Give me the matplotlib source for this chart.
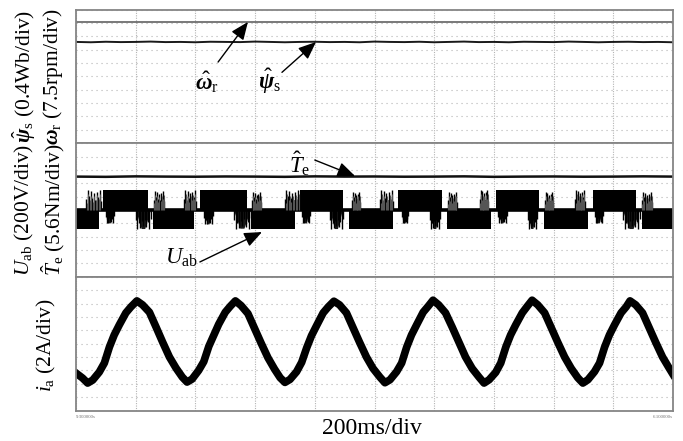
import numpy as np
import matplotlib
matplotlib.use("Agg")
import matplotlib.pyplot as plt

plt.rcParams['font.family'] = ['Liberation Serif', 'DejaVu Serif']
plt.rcParams['mathtext.fontset'] = 'custom'
plt.rcParams['mathtext.rm'] = 'Liberation Serif'
plt.rcParams['mathtext.it'] = 'Liberation Serif:italic'
plt.rcParams['mathtext.bf'] = 'Liberation Serif:bold:italic'

# ---------------- data (time in ms, 200 ms/div) ----------------
t_span = 2000
# scales per division
psi_scale = 0.4      # Wb/div
omega_scale = 7.5    # rpm/div
u_scale = 200.0      # V/div
te_scale = 5.6       # Nm/div
ia_scale = 2.0       # A/div

omega_r = [30.5, 30.5]          # rpm
psi_s = [1.03, 1.02, 1.035, 1.025, 1.03, 1.04, 1.025, 1.03, 1.02, 1.035,
         1.03, 1.025, 1.04, 1.03, 1.02, 1.03, 1.035, 1.025, 1.03, 1.02,
         1.04, 1.03, 1.025, 1.035, 1.02, 1.03, 1.04, 1.025, 1.03, 1.02,
         1.035, 1.03, 1.025, 1.04, 1.03, 1.02, 1.03, 1.035, 1.025, 1.03, 1.02]
t_e = [14.0, 13.9, 14.1, 14.0, 13.95, 14.05, 14.0, 13.9, 14.1, 14.0, 14.05,
       13.95, 14.0, 14.1, 13.9, 14.0, 14.05, 13.95, 14.0, 14.1, 14.0]

# U_ab PWM blocks
high_start = [90, 415, 750, 1079, 1407, 1732]
high_end = [241, 573, 894, 1226, 1551, 1876]
low_start = [0, 258, 586, 914, 1243, 1568, 1896]
low_end = [77, 395, 734, 1062, 1390, 1716, 2000]
u_high = 300.0
u_low = -285.0
# spike clusters: start, end, peak voltage
up_spike_start = [34, 261, 362, 590, 700, 925, 1018, 1246, 1353, 1571, 1672, 1896]
up_spike_end = [84, 295, 402, 620, 748, 952, 1062, 1276, 1380, 1598, 1705, 1930]
up_spike_peak = [300, 285, 300, 270, 300, 270, 300, 270, 300, 270, 300, 270]
dn_spike_start = [100, 201, 429, 529, 757, 851, 1092, 1186, 1414, 1514, 1739, 1832]
dn_spike_end = [127, 251, 459, 586, 784, 894, 1112, 1220, 1444, 1544, 1765, 1890]
dn_spike_peak = [-200, -285, -215, -280, -200, -285, -200, -285, -200, -285, -200, -285]

# phase current samples
ia_t = [0, 22, 39, 56, 78, 95, 112, 128, 145, 167, 184, 204, 223, 246, 268, 290, 313, 335, 356,
        372, 389, 411, 428, 445, 461, 478, 500, 517, 534, 553, 576, 598, 620, 643, 665, 684,
        700, 717, 739, 756, 773, 789, 806, 828, 845, 864, 883, 906, 928, 950, 973, 995, 1018,
        1035, 1052, 1074, 1091, 1108, 1124, 1141, 1163, 1180, 1196, 1215, 1238, 1260, 1282, 1305, 1327, 1350,
        1367, 1384, 1406, 1423, 1440, 1456, 1473, 1495, 1512, 1528, 1547, 1570, 1592, 1614, 1637, 1659, 1681,
        1698, 1715, 1737, 1754, 1771, 1787, 1804, 1826, 1843, 1856, 1875, 1898, 1920, 1942, 1965, 1985, 2000]
ia_v = [-4.4, -5.15, -5.9, -5.45, -4.25, -2.9, -0.5, 1.3, 2.8, 4.6, 5.5, 6.4, 5.8, 4.7, 2.5, 0.25, -2.0, -3.65, -5.0,
        -5.75, -5.3, -4.0, -2.7, -0.4, 1.2, 2.9, 4.7, 5.6, 6.4, 5.7, 4.5, 2.3, 0.1, -2.1, -3.8, -5.1,
        -5.8, -5.35, -4.2, -2.8, -0.6, 1.2, 2.7, 4.6, 5.5, 6.35, 5.8, 4.6, 2.4, 0.2, -2.0, -3.7, -5.0,
        -5.85, -5.4, -4.2, -2.9, -0.5, 1.3, 2.8, 4.7, 5.6, 6.5, 5.8, 4.6, 2.5, 0.3, -2.0, -3.7, -5.0,
        -5.9, -5.4, -4.3, -2.9, -0.5, 1.3, 2.8, 4.6, 5.6, 6.5, 5.8, 4.6, 2.4, 0.2, -2.0, -3.7, -5.1,
        -5.9, -5.4, -4.2, -2.9, -0.5, 1.3, 2.8, 4.6, 5.5, 6.4, 5.8, 4.6, 2.4, 0.2, -2.0, -3.5, -4.6]

# ---------------- figure ----------------
W, H = 683, 441
fig = plt.figure(figsize=(W / 100, H / 100), dpi=100)
left = 76 / W
width = 597 / W
panels_px = [(9.5, 143.2), (143.2, 276.8), (276.8, 410.5)]
axes = []
for top_px, bot_px in panels_px:
    ax = fig.add_axes([left, 1 - bot_px / H, width, (bot_px - top_px) / H])
    axes.append(ax)

frame_col = '#858585'
grid_col = '#b4b4b4'
for ax in axes:
    ax.set_xlim(0, t_span)
    ax.set_ylim(-5, 5)
    ax.set_xticks(np.arange(0, t_span + 1, 200))
    ax.set_yticks(np.arange(-5, 6, 1))
    ax.set_yticks([0], minor=True)
    ax.tick_params(which='major', length=0, labelleft=False, labelbottom=False)
    ax.tick_params(axis='y', which='minor', length=4, width=1, color=frame_col, direction='out')
    ax.tick_params(axis='x', which='minor', length=0)
    ax.xaxis.grid(True, which='major', color=grid_col, lw=0.8, linestyle=(0, (1, 1.2)))
    ax.yaxis.grid(True, which='major', color=grid_col, lw=0.8, linestyle=(0, (1, 3.5)))
    ax.set_axisbelow(True)
    for sp in ax.spines.values():
        sp.set_color(frame_col)
        sp.set_linewidth(1.3)

# ---- top panel ----
ax0 = axes[0]
ax0.plot([0, t_span], np.array(omega_r) / omega_scale, color='#555555', lw=1.1)
t_psi = np.linspace(0, t_span, len(psi_s))
ax0.plot(t_psi, np.array(psi_s) / psi_scale, color='#1a1a1a', lw=1.4)

# ---- middle panel ----
ax1 = axes[1]
t_te = np.linspace(0, t_span, len(t_e))
ax1.plot(t_te, np.array(t_e) / te_scale, color='#111111', lw=1.8)
hs = np.array(high_start); he = np.array(high_end)
ls = np.array(low_start); le = np.array(low_end)
ax1.bar(hs, u_high / u_scale, width=he - hs, align='edge', bottom=0, color='black', lw=0)
ax1.bar(ls, u_low / u_scale, width=le - ls, align='edge', bottom=0, color='black', lw=0)
ax1.axhline(0, color='black', lw=2.6)
comb = np.array([0.55, 1.0, 0.7, 0.95, 0.6, 0.85, 0.5, 0.9, 0.65, 1.0, 0.45])
for s, e, p in zip(up_spike_start, up_spike_end, up_spike_peak):
    xs = np.linspace(s, e, len(comb))
    ax1.vlines(xs, 0, comb * p / u_scale, color='black', lw=1.0)
    ax1.vlines(xs[:-1] + (e - s) / 20, 0, comb[::-1][:-1] * p / u_scale * 0.8, color='#555555', lw=0.8)
for s, e, p in zip(dn_spike_start, dn_spike_end, dn_spike_peak):
    m = (s + e) / 2
    ax1.fill([s, m - (e - s) * 0.12, m + (e - s) * 0.12, e],
             [0, p / u_scale, p / u_scale, 0], color='#1a1a1a', lw=0)
    xs = np.linspace(s, e, len(comb))
    ax1.vlines(xs, 0, comb * p / u_scale, color='black', lw=1.0)

# ---- bottom panel ----
ax2 = axes[2]
ax2.plot(ia_t, np.array(ia_v) / ia_scale, color='black', lw=5.5, solid_joinstyle='round')

# ---------------- labels ----------------
fs = 15.5
def ylab(xpx, ypx, s):
    fig.text(xpx / W, 1 - ypx / H, s, rotation=90, ha='center', va='center', fontsize=fs)

ylab(24, 76, r'$\hat{\mathbf{\psi}}_\mathrm{s}$ (0.4Wb/div)')
ylab(53, 77, r'$\mathbf{\omega}_\mathrm{r}$ (7.5rpm/div)')
ylab(24, 210, r'$U_\mathrm{ab}$ (200V/div)')
ylab(53, 210, r'$\hat{T}_\mathrm{e}$ (5.6Nm/div)')
ylab(46, 345, r'$i_\mathrm{a}$ (2A/div)')

fig.text(372 / W, 1 - 428 / H, '200ms/div', ha='center', va='center', fontsize=17)
fig.text(76 / W, 1 - 417 / H, '9.300000s', ha='left', va='center', fontsize=3.5, color='#707070')
fig.text(673 / W, 1 - 417 / H, '6.100000s', ha='right', va='center', fontsize=3.5, color='#707070')

arrow = dict(arrowstyle='-|>,head_length=0.6,head_width=0.25', mutation_scale=18,
             color='black', lw=1.0, shrinkA=0, shrinkB=0)
afs = 16.5
ax0.text(439, -0.43, r'$\hat{\mathbf{\omega}}_\mathrm{r}$', ha='center', va='center', fontsize=afs)
ax0.annotate('', xy=(576, 4.07), xytext=(476, 1.07), arrowprops=arrow)
ax0.text(650, -0.35, r'$\hat{\mathbf{\psi}}_\mathrm{s}$', ha='center', va='center', fontsize=afs)
ax0.annotate('', xy=(804, 2.57), xytext=(690, 0.3), arrowprops=arrow)
ax1.text(750, 3.5, r'$\hat{T}_\mathrm{e}$', ha='center', va='center', fontsize=afs)
ax1.annotate('', xy=(935, 2.54), xytext=(800, 3.74), arrowprops=arrow)
ax1.text(355, -3.6, r'$U_\mathrm{ab}$', ha='center', va='center', fontsize=afs)
ax1.annotate('', xy=(623, -1.65), xytext=(415, -3.89), arrowprops=arrow)

fig.savefig('out.png', dpi=100)
